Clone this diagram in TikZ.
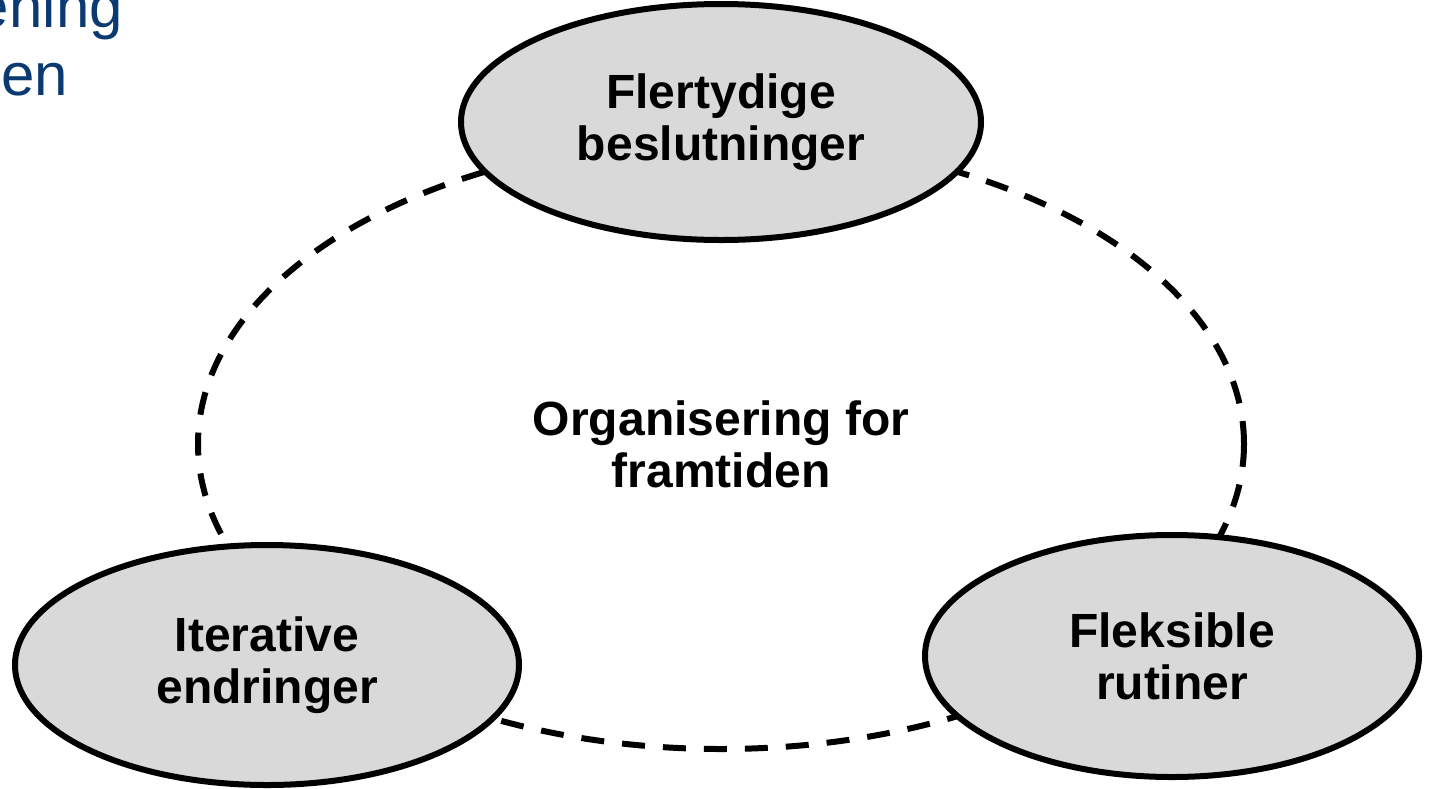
\documentclass[tikz,border=0pt]{standalone}
\usepackage{fontspec}
\setmainfont{Liberation Sans}
\usetikzlibrary{shapes.geometric}

\definecolor{titleblue}{HTML}{0B3A72}
\definecolor{bubblegray}{HTML}{D9D9D9}

\tikzset{
  bubble/.style={ellipse, draw, line width=6pt, fill=bubblegray, align=center,
    inner sep=0pt, font=\fontsize{48}{52}\selectfont\bfseries},
  cycleline/.style={ellipse, draw, line width=6pt, dash pattern=on 23pt off 18pt,
    align=center, inner sep=0pt, font=\fontsize{48}{52}\selectfont\bfseries},
  titletext/.style={text=titleblue, inner sep=0pt, font=\fontsize{60}{67}\selectfont}
}

\begin{document}
\begin{tikzpicture}[x=1pt, y=-1pt]
  \useasboundingbox (0,0) rectangle (1432,788);
  \clip (0,0) rectangle (1432,788);
  % cut-off title in the corner
  \node[titletext, anchor=base east] (title1) at (123,27) {ening};
  \node[titletext, anchor=base east] (title2) at (68,95) {en};
  % dashed cycle, centre text inside
  \node[cycleline, minimum width=1046pt, minimum height=610pt] (cycle) at (721,444)
    {Organisering for\\framtiden};
  % the three bubbles sitting on the cycle
  \foreach \name/\xx/\yy/\ww/\hh/\txt in {
      flertydig/721/122/520/236/{Flertydige\\beslutninger},
      fleksibel/1172/656/494/242/{Fleksible\\rutiner},
      iterativ/267/665/504/240/{Iterative\\endringer}} {
    \node[bubble, minimum width=\ww pt, minimum height=\hh pt] (\name) at (\xx,\yy) {\txt};
  }
\end{tikzpicture}
\end{document}
